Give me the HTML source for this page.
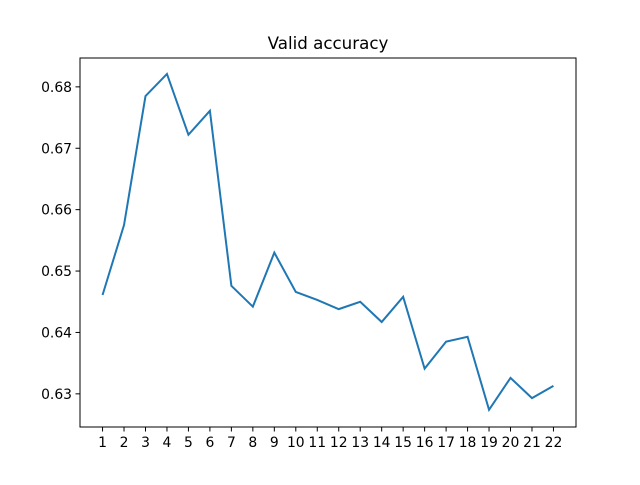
<!DOCTYPE html>
<html><head><meta charset="utf-8"><style>
body{margin:0;background:#fff;}
svg text{font-family:"DejaVu Sans","Liberation Sans",sans-serif;font-size:13.9px;fill:#000;}
</style></head><body>
<svg id="chart" width="640" height="480" xmlns="http://www.w3.org/2000/svg">
<rect width="640" height="480" fill="#fff"/>
<text x="328" y="49" text-anchor="middle" style="font-size:16.7px">Valid accuracy</text>
<g id="ticks"></g>
<path id="line" fill="none" stroke="#1f77b4" stroke-width="2"/>
<rect x="80" y="58" width="496" height="369" fill="none" stroke="#000" stroke-width="1"/>
</svg>
<script>
const epochs = [1,2,3,4,5,6,7,8,9,10,11,12,13,14,15,16,17,18,19,20,21,22];
const accuracy = [0.6461,0.6575,0.6785,0.6821,0.6722,0.6761,0.6476,0.6442,0.6530,0.6466,0.6453,0.6438,0.6450,0.6417,0.6458,0.6341,0.6385,0.6393,0.6274,0.6326,0.6293,0.6313];
const yTicks = [0.63,0.64,0.65,0.66,0.67,0.68];
const yMin = 0.6246, yMax = 0.6847;
const xMin = -0.05, xMax = 23.05;
function xs(v){return 80 + (v - xMin)/(xMax - xMin)*496;}
function ys(v){return 427 - (v - yMin)/(yMax - yMin)*369;}
const NS = "http://www.w3.org/2000/svg";
const g = document.getElementById('ticks');
function mk(tag, attrs){const e=document.createElementNS(NS,tag);for(const k in attrs)e.setAttribute(k,attrs[k]);return e;}
epochs.forEach(e=>{
  const x = xs(e);
  const t = mk('line',{x1:x,x2:x,y1:427,y2:431.5,stroke:'#000','stroke-width':1});
  
  
  g.appendChild(t);
  const l = mk('text',{x:x,y:447,'text-anchor':'middle'});
  l.textContent = e;
  
  
  g.appendChild(l);
});
yTicks.forEach(v=>{
  const y = ys(v);
  const t = mk('line',{x1:75.5,x2:80,y1:y,y2:y,stroke:'#000','stroke-width':1});
  
  
  g.appendChild(t);
  const l = mk('text',{x:72,y:y+5,'text-anchor':'end'});
  l.textContent = v.toFixed(2);
  
  
  g.appendChild(l);
});
document.getElementById('line').setAttribute('d', epochs.map((e,i)=>(i?'L':'M')+xs(e).toFixed(2)+','+ys(accuracy[i]).toFixed(2)).join(' '));
</script>
</body></html>
